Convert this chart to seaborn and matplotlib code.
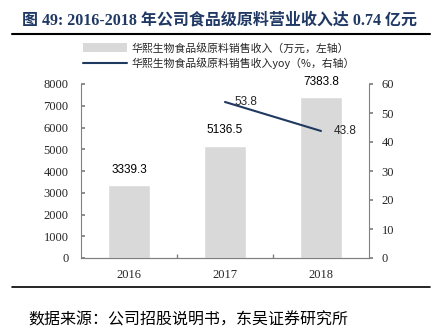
import matplotlib
matplotlib.use("Agg")
import matplotlib.pyplot as plt
import seaborn as sns
import pandas as pd
from matplotlib.patches import Patch
from matplotlib.lines import Line2D

years = ["2016", "2017", "2018"]
revenue = [3339.3, 5136.5, 7383.8]
yoy_years = ["2017", "2018"]
yoy = [53.8, 43.8]
left_ticks = [0, 1000, 2000, 3000, 4000, 5000, 6000, 7000, 8000]
right_ticks = [0, 10, 20, 30, 40, 50, 60]

sns.set_theme(style="white")
plt.rcParams['font.family'] = ['Noto Sans CJK SC', 'DejaVu Sans']

BAR_C = "#d9d9d9"
LINE_C = "#1f3a60"
NAVY = "#1f3864"

fig = plt.figure(figsize=(4.38, 3.29), dpi=100)
ax = fig.add_axes([81/438, 1-258/329, 288/438, 174/329])

df = pd.DataFrame({"year": years, "rev": revenue})
sns.barplot(data=df, x="year", y="rev", color=BAR_C, width=0.43, ax=ax, saturation=1)
ax.set_xlim(-0.5, 2.5)
ax.set_ylim(0, 8000)
ax.set_yticks(left_ticks)
ax.set_xlabel("")
ax.set_ylabel("")
for i, v in enumerate(revenue):
    ax.text(i, v + 450, f"{v:.1f}", ha="center", va="bottom", fontsize=8.5,
            family="Liberation Sans", color="black")

ax2 = ax.twinx()
xpos = [years.index(y) for y in yoy_years]
sns.lineplot(x=xpos, y=yoy, ax=ax2, color=LINE_C, linewidth=1.5)
ax2.set_ylim(0, 60)
ax2.set_yticks(right_ticks)
ax2.text(xpos[0] + 0.22, yoy[0], f"{yoy[0]:.1f}", ha="center", va="center", fontsize=8.5,
         family="Liberation Sans")
ax2.text(xpos[1] + 0.25, yoy[1], f"{yoy[1]:.1f}", ha="center", va="center", fontsize=8.5,
         family="Liberation Sans")

for a in (ax, ax2):
    a.spines["top"].set_visible(False)
    for s in a.spines.values():
        s.set_color("#808080")
        s.set_linewidth(0.8)
    a.tick_params(axis="y", labelsize=9, length=3, color="#808080")
    for lab in a.get_yticklabels():
        lab.set_family("Liberation Serif")
ax.spines["right"].set_visible(False)
ax2.spines["left"].set_visible(False)
ax.tick_params(axis="y", left=True, direction="in", pad=9)
ax2.tick_params(axis="y", right=True, direction="out", pad=6)
ax.set_xticks([0.5, 1.5], minor=True)
ax.tick_params(axis="x", which="major", length=0, labelsize=9, pad=8)
ax.tick_params(axis="x", which="minor", length=3, direction="in", color="#808080", bottom=True)
for lab in ax.get_xticklabels():
    lab.set_family("Liberation Serif")

fig.text(0.5, 1-20/329, "图 49: 2016-2018 年公司食品级原料营业收入达 0.74 亿元",
         ha="center", va="center", fontsize=11.5, fontweight="bold", color=NAVY,
         family=["Liberation Serif", "Noto Sans CJK SC"])
fig.add_artist(Line2D([12/438, 430/438], [1-34/329, 1-34/329], color="black", lw=1.5))
fig.add_artist(Line2D([12/438, 430/438], [1-287/329, 1-287/329], color="black", lw=1.2))

handles = [Patch(facecolor=BAR_C, edgecolor="none"),
           Line2D([0], [0], color=LINE_C, lw=1.5)]
labels = ["华熙生物食品级原料销售收入（万元，左轴）", "华熙生物食品级原料销售收入yoy（%，右轴）"]
fig.legend(handles, labels, loc="center", bbox_to_anchor=(0.5, 1-56/329), frameon=False,
           fontsize=7.8, handlelength=4.0, handleheight=0.9, labelspacing=0.4,
           handletextpad=0.4, borderpad=0)

fig.text(28/438, 1-320/329, "数据来源：公司招股说明书，东吴证券研究所", ha="left", va="center",
         fontsize=11.5, color="black")

fig.savefig("out.png", dpi=100, facecolor="white")
